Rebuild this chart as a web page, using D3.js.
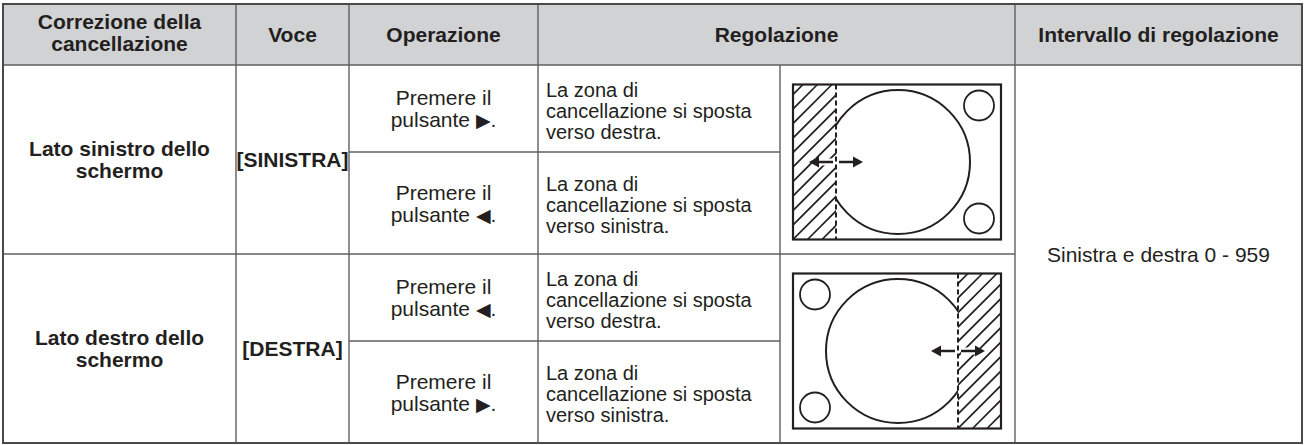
<!DOCTYPE html>
<html><head><meta charset="utf-8">
<script src="https://cdn.jsdelivr.net/npm/d3@7"></script>
<style>
html,body{margin:0;padding:0;background:#fff;}
svg{display:block;}
</style></head>
<body>
<svg id="chart" width="1305" height="445"></svg>
<script>
// ---------- data ----------
const headers = [["Correzione della","cancellazione"],["Voce"],["Operazione"],["Regolazione"],["Intervallo di regolazione"]];
const groups = [["Lato sinistro dello","schermo"],["Lato destro dello","schermo"]];
const voci = ["[SINISTRA]","[DESTRA]"];
const buttons = ["▶","◀","◀","▶"];
const descriptions = [
  ["La zona di","cancellazione si sposta","verso destra."],
  ["La zona di","cancellazione si sposta","verso sinistra."],
  ["La zona di","cancellazione si sposta","verso destra."],
  ["La zona di","cancellazione si sposta","verso sinistra."]
];
const hatchSide = ["left","right"];
const rangeText = "Sinistra e destra 0 - 959";

// ---------- layout ----------
const colX = [3, 236, 349, 538, 780, 1015, 1302];
const headY = [4, 65];
const mainY = [65, 254, 443];
const subY = [65, 152, 254, 341, 443];
const FONT = "'Liberation Sans', Arial, Helvetica, sans-serif";
const FS = 21, LH = 22;
const INK = "#231f20";

const svg = d3.select("#chart");

// header background
svg.append("rect").attr("x", colX[0]).attr("y", headY[0])
  .attr("width", colX[6]-colX[0]).attr("height", headY[1]-headY[0]).attr("fill", "#d1d2d4");

// grid lines
const gridColor = "#5f5f5f";
const g = svg.append("g").attr("stroke", gridColor).attr("stroke-width", 1.4).attr("fill","none");
function hline(x1,x2,y){ g.append("line").attr("x1",x1).attr("x2",x2).attr("y1",y).attr("y2",y); }
function vline(x,y1,y2){ g.append("line").attr("x1",x).attr("x2",x).attr("y1",y1).attr("y2",y2); }
hline(colX[0], colX[6], headY[1]);
hline(colX[0], colX[5], mainY[1]);
hline(colX[2], colX[4], subY[1]);
hline(colX[2], colX[4], subY[3]);
[1,2,3,5].forEach(i => vline(colX[i], headY[0], mainY[2]));
vline(colX[4], headY[1], mainY[2]);
svg.append("rect").attr("x", colX[0]).attr("y", headY[0])
  .attr("width", colX[6]-colX[0]).attr("height", mainY[2]-headY[0])
  .attr("fill","none").attr("stroke","#4a4a4a").attr("stroke-width",2);

// text helper
function block(lines, x, cy, anchor, bold, lh, fs){
  lh = lh || LH; fs = fs || FS;
  const n = lines.length;
  const t = svg.append("text").attr("font-family", FONT).attr("font-size", fs)
    .attr("fill", INK).attr("text-anchor", anchor).attr("font-weight", bold ? "bold" : "normal");
  lines.forEach((ln, i) => {
    t.append("tspan").attr("x", x).attr("y", cy - (n-1)*lh/2 + 0.36*fs + i*lh).text(ln);
  });
  return t;
}

// headers
const headCols = [[0,1],[1,2],[2,3],[3,5],[5,6]];
headers.forEach((h,i) => {
  const [a,b] = headCols[i];
  block(h, (colX[a]+colX[b])/2, (headY[0]+headY[1])/2 - (h.length > 1 ? 2 : 0), "middle", true, 22);
});

// groups & voci
groups.forEach((gr,i) => {
  const cy = (mainY[i]+mainY[i+1])/2;
  block(gr, (colX[0]+colX[1])/2, cy, "middle", true);
  block([voci[i]], (colX[1]+colX[2])/2, cy, "middle", true);
});

// operations & descriptions
buttons.forEach((b,i) => {
  const cy = (subY[i]+subY[i+1])/2;
  const cx = (colX[2]+colX[3])/2;
  const t = svg.append("text").attr("font-family", FONT).attr("font-size", FS)
    .attr("fill", INK).attr("text-anchor","middle");
  t.append("tspan").attr("x", cx).attr("y", cy - LH/2 + 0.36*FS).text("Premere il");
  const l2 = t.append("tspan").attr("x", cx).attr("y", cy + LH/2 + 0.36*FS);
  l2.append("tspan").text("pulsante ");
  l2.append("tspan").attr("font-family","'DejaVu Sans', sans-serif").attr("font-size", 19).text(b);
  l2.append("tspan").text(".");
  block(descriptions[i], colX[3] + 8, cy + 2, "start", false, 21, 20);
});

// range
block([rangeText], (colX[5]+colX[6])/2, (mainY[0]+mainY[2])/2, "middle", false);

// diagrams
const defs = svg.append("defs");
hatchSide.forEach((side, i) => {
  const fw = 208, fh = 155, hw = 43;
  const fx = colX[4] + 13;
  const fy = (mainY[i]+mainY[i+1])/2 - 75;
  const dg = svg.append("g");
  const hx0 = side === "left" ? fx : fx + fw - hw;
  const dashX = side === "left" ? fx + hw : fx + fw - hw;
  const openX0 = side === "left" ? fx + hw : fx;
  const idH = "clipH" + i, idO = "clipO" + i;
  defs.append("clipPath").attr("id", idH).append("rect")
    .attr("x", hx0).attr("y", fy).attr("width", hw).attr("height", fh);
  defs.append("clipPath").attr("id", idO).append("rect")
    .attr("x", openX0).attr("y", fy).attr("width", fw - hw).attr("height", fh);
  // hatch
  const hg = dg.append("g").attr("clip-path", `url(#${idH})`)
    .attr("stroke", INK).attr("stroke-width", 1.6);
  const step = 14.5;
  d3.range(-12, 6).forEach(k => {
    const x = hx0 + k*step;
    hg.append("line").attr("x1", x).attr("y1", fy + fh).attr("x2", x + fh).attr("y2", fy);
  });
  // big circle
  const cx = fx + 105, cy = fy + fh/2;
  dg.append("circle").attr("clip-path", `url(#${idO})`).attr("cx", cx).attr("cy", cy).attr("r", 72)
    .attr("fill","none").attr("stroke", INK).attr("stroke-width", 2);
  // small circles
  const scx = side === "left" ? fx + fw - 22 : fx + 22;
  [fy + 21, fy + fh - 21].forEach(sy => {
    dg.append("circle").attr("cx", scx).attr("cy", sy).attr("r", 15)
      .attr("fill","none").attr("stroke", INK).attr("stroke-width", 1.8);
  });
  // dashed boundary
  dg.append("line").attr("x1", dashX).attr("x2", dashX).attr("y1", fy).attr("y2", fy + fh)
    .attr("stroke", INK).attr("stroke-width", 2).attr("stroke-dasharray", "5,3");
  // arrows
  const ay = cy;
  [[-1, 27],[1, 27]].forEach(([dir, len]) => {
    const x1 = dashX + dir*3, x2 = dashX + dir*len;
    dg.append("line").attr("x1", x1).attr("x2", x2 - dir*6).attr("y1", ay).attr("y2", ay)
      .attr("stroke", "#fff").attr("stroke-width", 7);
    dg.append("line").attr("x1", x1).attr("x2", x2 - dir*6).attr("y1", ay).attr("y2", ay)
      .attr("stroke", INK).attr("stroke-width", 2.5);
    dg.append("path").attr("d", `M${x2},${ay} L${x2 - dir*10},${ay-5.5} L${x2 - dir*10},${ay+5.5} Z`)
      .attr("fill", INK);
  });
  // frame
  dg.append("rect").attr("x", fx).attr("y", fy).attr("width", fw).attr("height", fh)
    .attr("fill","none").attr("stroke", INK).attr("stroke-width", 2.2);
});
</script>
</body></html>
